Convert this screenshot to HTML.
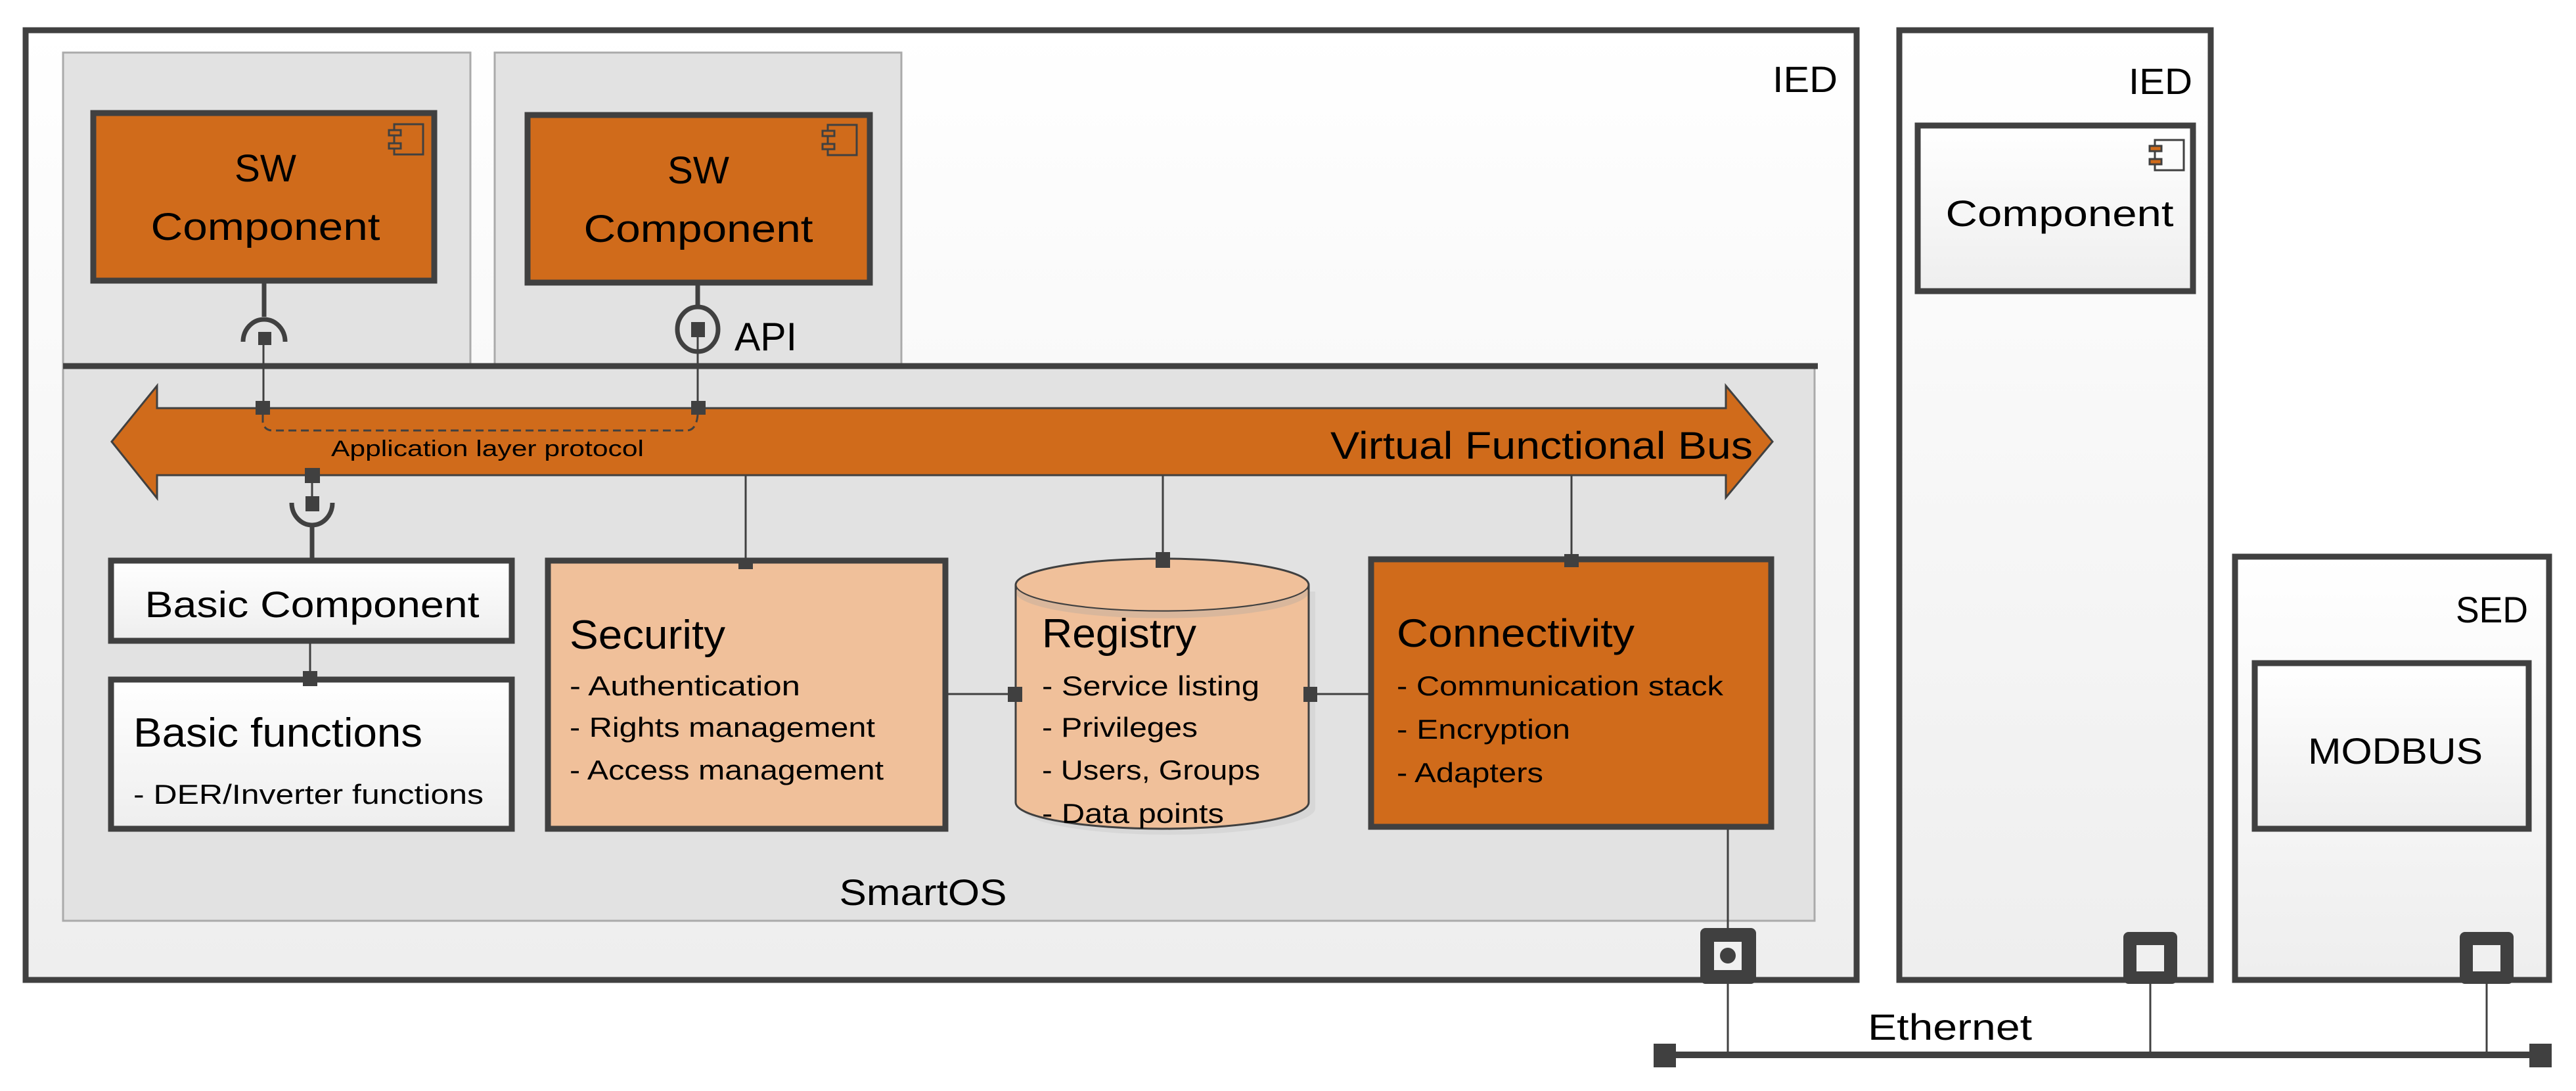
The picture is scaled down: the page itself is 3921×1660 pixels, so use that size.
<!DOCTYPE html>
<html><head><meta charset="utf-8"><style>
html,body{margin:0;padding:0;background:#fff;}
svg{display:block;}
text{font-family:"Liberation Sans",sans-serif;fill:#000;}
</style></head><body>
<svg width="3921" height="1660" viewBox="0 0 3921 1660" xmlns="http://www.w3.org/2000/svg">
<defs>
<linearGradient id="g" x1="0" y1="0" x2="0" y2="1"><stop offset="0" stop-color="#ffffff"/><stop offset="1" stop-color="#eeeeee"/></linearGradient>
<g id="ico"><rect x="8" y="0" width="44" height="46" fill="none" stroke="#404040" stroke-width="3"/><rect x="0" y="9" width="18" height="8" fill="#d06b1b" stroke="#404040" stroke-width="3"/><rect x="0" y="29" width="18" height="8" fill="#d06b1b" stroke="#404040" stroke-width="3"/></g>
</defs>
<!-- IED 1 -->
<rect x="39" y="46" width="2787" height="1445" fill="url(#g)" stroke="#404040" stroke-width="9"/>
<text x="2797" y="140" font-size="56" text-anchor="end" textLength="99" lengthAdjust="spacingAndGlyphs">IED</text>
<rect x="96" y="80" width="620" height="475" fill="#e2e2e2" stroke="#aaa" stroke-width="3"/>
<rect x="753" y="80" width="619" height="475" fill="#e2e2e2" stroke="#aaa" stroke-width="3"/>
<rect x="96" y="557" width="2666" height="844" fill="#e2e2e2" stroke="#aaa" stroke-width="3"/>
<line x1="96" y1="557" x2="2767" y2="557" stroke="#404040" stroke-width="9"/>
<text x="1405" y="1377" font-size="56" text-anchor="middle" textLength="255" lengthAdjust="spacingAndGlyphs">SmartOS</text>
<!-- SW comps -->
<rect x="142" y="172" width="519" height="255" fill="#d06b1b" stroke="#404040" stroke-width="9"/>
<use href="#ico" x="592" y="189"/>
<text x="404" y="276" font-size="58" text-anchor="middle" textLength="94" lengthAdjust="spacingAndGlyphs">SW</text>
<text x="404" y="365" font-size="58" text-anchor="middle" textLength="349" lengthAdjust="spacingAndGlyphs">Component</text>
<rect x="803" y="175" width="521" height="255" fill="#d06b1b" stroke="#404040" stroke-width="9"/>
<use href="#ico" x="1252" y="190"/>
<text x="1063" y="279" font-size="58" text-anchor="middle" textLength="94" lengthAdjust="spacingAndGlyphs">SW</text>
<text x="1063" y="368" font-size="58" text-anchor="middle" textLength="349" lengthAdjust="spacingAndGlyphs">Component</text>
<!-- socket SW1 -->
<line x1="402" y1="431" x2="402" y2="482" stroke="#404040" stroke-width="7"/>
<path d="M370 520 A32 34 0 0 1 434 520" fill="none" stroke="#404040" stroke-width="7"/>
<rect x="393" y="505" width="20" height="20" fill="#404040"/>
<line x1="401" y1="525" x2="401" y2="612" stroke="#404040" stroke-width="3"/>
<rect x="389" y="610" width="22" height="21" fill="#404040"/>
<!-- lollipop SW2 -->
<line x1="1062" y1="434" x2="1062" y2="466" stroke="#404040" stroke-width="7"/>
<ellipse cx="1062" cy="501" rx="31" ry="34" fill="none" stroke="#404040" stroke-width="7"/>
<rect x="1052" y="490" width="21" height="23" fill="#404040"/>
<line x1="1062" y1="513" x2="1062" y2="612" stroke="#404040" stroke-width="3"/>
<text x="1118" y="533" font-size="60" textLength="95" lengthAdjust="spacingAndGlyphs">API</text>
<!-- Bus arrow -->
<path d="M170 672 L239 587 L239 621 L2627 621 L2627 587 L2698 672 L2627 757 L2627 723 L239 723 L239 758 Z" fill="#d06b1b" stroke="#404040" stroke-width="3"/>
<rect x="1052" y="610" width="22" height="21" fill="#404040"/>
<rect x="389" y="610" width="22" height="21" fill="#404040"/>
<path d="M400 631 L400 642 Q402 655 415 655 L1045 655 Q1060 655 1062 631" fill="none" stroke="#404040" stroke-width="3" stroke-dasharray="12,7"/>
<text x="504" y="694" font-size="34" textLength="476" lengthAdjust="spacingAndGlyphs">Application layer protocol</text>
<text x="2668" y="698" font-size="58" text-anchor="end" textLength="643" lengthAdjust="spacingAndGlyphs">Virtual Functional Bus</text>
<!-- left port under bus -->
<rect x="464" y="712" width="23" height="23" fill="#404040"/>
<line x1="475" y1="735" x2="475" y2="756" stroke="#404040" stroke-width="3"/>
<rect x="465" y="755" width="21" height="23" fill="#404040"/>
<path d="M444 765 A31 34 0 0 0 506 765" fill="none" stroke="#404040" stroke-width="7"/>
<line x1="475" y1="799" x2="475" y2="849" stroke="#404040" stroke-width="7"/>
<!-- Basic Component -->
<rect x="169" y="853" width="610" height="122" fill="url(#g)" stroke="#404040" stroke-width="9"/>
<text x="475" y="939" font-size="56" text-anchor="middle" textLength="509" lengthAdjust="spacingAndGlyphs">Basic Component</text>
<line x1="472" y1="979" x2="472" y2="1030" stroke="#404040" stroke-width="3"/>
<rect x="169" y="1034" width="610" height="227" fill="url(#g)" stroke="#404040" stroke-width="9"/>
<rect x="461" y="1021" width="22" height="23" fill="#404040"/>
<text x="203" y="1136" font-size="62" textLength="440" lengthAdjust="spacingAndGlyphs">Basic functions</text>
<text x="203" y="1223" font-size="42" textLength="533" lengthAdjust="spacingAndGlyphs">- DER/Inverter functions</text>
<!-- Security -->
<line x1="1135" y1="723" x2="1135" y2="849" stroke="#404040" stroke-width="3"/>
<rect x="834" y="853" width="605" height="408" fill="#f0c09a" stroke="#404040" stroke-width="9"/>
<rect x="1124" y="849" width="22" height="17" fill="#404040"/>
<text x="867" y="987" font-size="62" textLength="237" lengthAdjust="spacingAndGlyphs">Security</text>
<text x="867" y="1058" font-size="42" textLength="351" lengthAdjust="spacingAndGlyphs">- Authentication</text>
<text x="867" y="1121" font-size="42" textLength="465" lengthAdjust="spacingAndGlyphs">- Rights management</text>
<text x="867" y="1186" font-size="42" textLength="478" lengthAdjust="spacingAndGlyphs">- Access management</text>
<!-- Registry -->
<line x1="1770" y1="723" x2="1770" y2="850" stroke="#404040" stroke-width="3"/>
<path d="M1556 900 L1556 1230 A223 40 0 0 0 2002 1230 L2002 900 Z" fill="#d0d0d0" opacity="0.6"/>
<path d="M1546 890 L1546 1221 A223 40 0 0 0 1992 1221 L1992 890" fill="#f0c09a" stroke="#404040" stroke-width="3"/>
<ellipse cx="1769" cy="890" rx="223" ry="40" fill="#f0c09a" stroke="#404040" stroke-width="3"/>
<path d="M1548 896 A223 40 0 0 0 1990 896 L1990 906 A223 40 0 0 1 1548 906 Z" fill="#d9b79c"/>
<rect x="1759" y="840" width="22" height="24" fill="#404040"/>
<text x="1586" y="985" font-size="62" textLength="235" lengthAdjust="spacingAndGlyphs">Registry</text>
<text x="1586" y="1058" font-size="42" textLength="331" lengthAdjust="spacingAndGlyphs">- Service listing</text>
<text x="1586" y="1121" font-size="42" textLength="237" lengthAdjust="spacingAndGlyphs">- Privileges</text>
<text x="1586" y="1186" font-size="42" textLength="332" lengthAdjust="spacingAndGlyphs">- Users, Groups</text>
<text x="1586" y="1252" font-size="42" textLength="277" lengthAdjust="spacingAndGlyphs">- Data points</text>
<line x1="1443" y1="1056" x2="1540" y2="1056" stroke="#404040" stroke-width="3"/>
<rect x="1534" y="1045" width="22" height="23" fill="#404040"/>
<line x1="2000" y1="1056" x2="2083" y2="1056" stroke="#404040" stroke-width="3"/>
<rect x="1984" y="1045" width="21" height="23" fill="#404040"/>
<!-- Connectivity -->
<line x1="2392" y1="723" x2="2392" y2="847" stroke="#404040" stroke-width="3"/>
<rect x="2087" y="851" width="609" height="407" fill="#d06b1b" stroke="#404040" stroke-width="9"/>
<rect x="2381" y="843" width="22" height="20" fill="#404040"/>
<text x="2126" y="984" font-size="60" textLength="362" lengthAdjust="spacingAndGlyphs">Connectivity</text>
<text x="2126" y="1058" font-size="42" textLength="497" lengthAdjust="spacingAndGlyphs">- Communication stack</text>
<text x="2126" y="1124" font-size="42" textLength="264" lengthAdjust="spacingAndGlyphs">- Encryption</text>
<text x="2126" y="1190" font-size="42" textLength="223" lengthAdjust="spacingAndGlyphs">- Adapters</text>
<line x1="2630" y1="1262" x2="2630" y2="1605" stroke="#404040" stroke-width="3"/>
<!-- IED 2 -->
<rect x="2891" y="46" width="474" height="1445" fill="url(#g)" stroke="#404040" stroke-width="9"/>
<text x="3337" y="143" font-size="56" text-anchor="end" textLength="97" lengthAdjust="spacingAndGlyphs">IED</text>
<rect x="2919" y="191" width="419" height="252" fill="url(#g)" stroke="#404040" stroke-width="9"/>
<use href="#ico" x="3272" y="213"/>
<text x="3135" y="344" font-size="56" text-anchor="middle" textLength="347" lengthAdjust="spacingAndGlyphs">Component</text>
<line x1="3273" y1="1490" x2="3273" y2="1605" stroke="#404040" stroke-width="3"/>
<!-- SED -->
<rect x="3402" y="847" width="478" height="644" fill="url(#g)" stroke="#404040" stroke-width="9"/>
<text x="3848" y="947" font-size="56" text-anchor="end" textLength="110" lengthAdjust="spacingAndGlyphs">SED</text>
<rect x="3432" y="1009" width="417" height="252" fill="url(#g)" stroke="#404040" stroke-width="9"/>
<text x="3646" y="1162" font-size="56" text-anchor="middle" textLength="266" lengthAdjust="spacingAndGlyphs">MODBUS</text>
<line x1="3785" y1="1490" x2="3785" y2="1605" stroke="#404040" stroke-width="3"/>
<!-- ports on device boundaries -->
<rect x="2588" y="1412" width="85" height="85" rx="8" fill="#404040"/>
<rect x="2609" y="1433" width="42" height="43" fill="#f0f0f0"/>
<line x1="2630" y1="1412" x2="2630" y2="1433" stroke="#404040" stroke-width="3"/>
<circle cx="2630" cy="1454" r="12" fill="#404040"/>
<rect x="3232" y="1418" width="82" height="79" rx="8" fill="#404040"/>
<rect x="3252" y="1438" width="42" height="40" fill="#f0f0f0"/>
<rect x="3744" y="1418" width="82" height="79" rx="8" fill="#404040"/>
<rect x="3764" y="1438" width="42" height="40" fill="#f0f0f0"/>
<!-- Ethernet -->
<line x1="2520" y1="1605" x2="3880" y2="1605" stroke="#404040" stroke-width="10"/>
<rect x="2517" y="1588" width="34" height="36" fill="#404040"/>
<rect x="3850" y="1588" width="34" height="36" fill="#404040"/>
<text x="2968" y="1582" font-size="56" text-anchor="middle" textLength="250" lengthAdjust="spacingAndGlyphs">Ethernet</text>
</svg>
</body></html>
